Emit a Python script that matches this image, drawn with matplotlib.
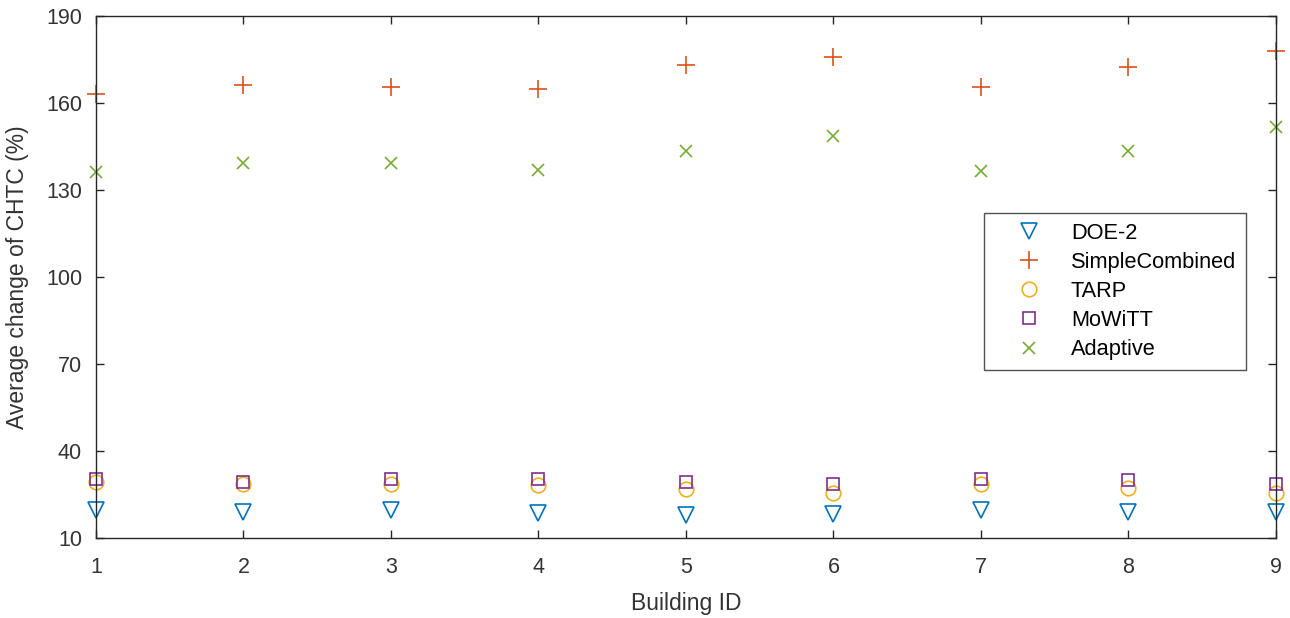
import matplotlib.pyplot as plt

plt.rcParams['font.family'] = ['Liberation Sans', 'DejaVu Sans']

building_id = [1, 2, 3, 4, 5, 6, 7, 8, 9]

# average change of CHTC (%) per model
doe2 = [19.8, 19.1, 19.6, 18.5, 17.9, 18.3, 19.6, 19.1, 19.1]
simple_combined = [163.2, 166.1, 165.5, 165.0, 173.2, 175.9, 165.5, 172.6, 177.8]
tarp = [29.4, 28.8, 28.8, 28.3, 26.8, 25.7, 28.8, 27.3, 25.7]
mowitt = [30.2, 29.4, 30.3, 30.3, 29.2, 28.5, 30.3, 30.0, 28.8]
adaptive = [136.2, 139.5, 139.5, 137.0, 143.5, 148.5, 136.5, 143.4, 151.7]

y_ticks = [10, 40, 70, 100, 130, 160, 190]

fig = plt.figure(figsize=(12.9, 6.18), dpi=100)
ax = fig.add_axes([0.0744, 0.1294, 0.9147, 0.8446])

ax.plot(building_id, doe2, 'v', color='#0072BD', mfc='none', ms=11, mew=1.2, label='DOE-2', clip_on=False)
ax.plot(building_id, simple_combined, '+', color='#D95319', ms=13, mew=1.2, label='SimpleCombined', clip_on=False)
ax.plot(building_id, tarp, 'o', color='#EDB120', mfc='none', ms=10.5, mew=1.2, label='TARP', clip_on=False)
ax.plot(building_id, mowitt, 's', color='#7E2F8E', mfc='none', ms=8.5, mew=1.2, label='MoWiTT', clip_on=False)
ax.plot(building_id, adaptive, 'x', color='#77AC30', ms=9, mew=1.2, label='Adaptive', clip_on=False)

ax.set_xlim([1, 9])
ax.set_ylim([10, 190])
ax.set_xticks(building_id)
ax.set_yticks(y_ticks)
ax.tick_params(direction='in', top=True, right=True, length=6, width=1,
               colors='#262626', labelsize=15.5, labelcolor='#333333')
ax.tick_params(axis='x', pad=14)
ax.tick_params(axis='y', pad=10)
for s in ax.spines.values():
    s.set_color('#262626')
    s.set_linewidth(1)

ax.set_xlabel('Building ID', fontsize=16.5, color='#333333', labelpad=10)
ax.set_ylabel('Average change of CHTC (%)', fontsize=16.5, color='#333333', labelpad=12)

leg = ax.legend(loc='upper right', bbox_to_anchor=(0.9746, 0.6226), borderaxespad=0,
                fontsize=15.7, frameon=True, fancybox=False, edgecolor='#262626',
                handlelength=3.2, handletextpad=0.32, borderpad=0.45, labelspacing=0.37)
leg.get_frame().set_linewidth(1)

plt.savefig('out.png', dpi=100)
